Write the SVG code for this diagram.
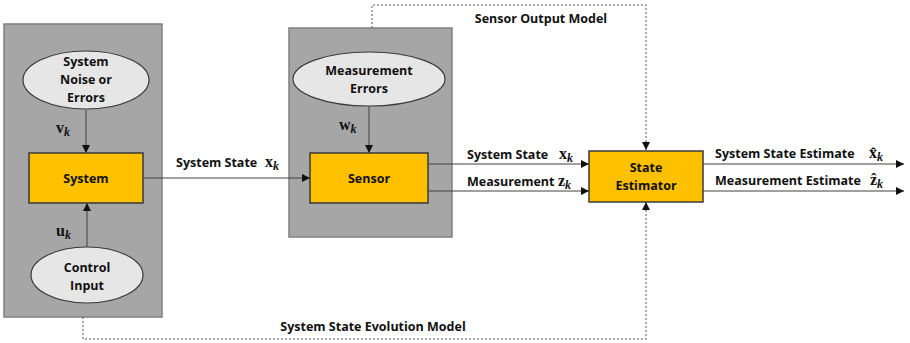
<svg xmlns="http://www.w3.org/2000/svg" width="910" height="343" viewBox="0 0 910 343">
  <style>
    .panel { fill: #a6a6a6; stroke: #808080; stroke-width: 1.5; }
    .cloud { fill: #e7e6e6; stroke: #3a3a3a; stroke-width: 1.2; }
    .block { fill: #ffc000; stroke: #3a3a3a; stroke-width: 1.5; }
    .lbl { font-family: "Open Sans", "Liberation Sans", sans-serif; font-weight: bold; font-size: 12.5px; fill: #111; }
    .mid { text-anchor: middle; }
    .math { font-family: "Liberation Serif", "DejaVu Serif", serif; font-weight: bold; font-size: 16px; fill: #111; }
    .sub { font-style: italic; font-size: 12px; }
    .wire { stroke: #404040; stroke-width: 1; fill: none; }
    .dash { stroke: #505050; stroke-width: 1; fill: none; stroke-dasharray: 2 2; }
  </style>
  <defs>
    <marker id="arr" viewBox="0 0 10 10" refX="10" refY="5" markerWidth="8" markerHeight="8" orient="auto" markerUnits="userSpaceOnUse">
      <path d="M0,0 L10,5 L0,10 z" fill="#111"/>
    </marker>
  </defs>

  <rect width="910" height="343" fill="#ffffff"/>

  <!-- background panels -->
  <g id="system-panel"><rect class="panel" x="4" y="24" width="158" height="293"/></g>
  <g id="sensor-panel"><rect class="panel" x="289" y="28" width="163" height="209"/></g>

  <!-- connectors -->
  <g id="connectors">
    <line class="wire" x1="86" y1="110" x2="86" y2="153" marker-end="url(#arr)"/>
    <line class="wire" x1="87" y1="247" x2="87" y2="203" marker-end="url(#arr)"/>
    <line class="wire" x1="143" y1="178" x2="310" y2="178" marker-end="url(#arr)"/>
    <line class="wire" x1="369" y1="106" x2="369" y2="153" marker-end="url(#arr)"/>
    <line class="wire" x1="428" y1="164" x2="589" y2="164" marker-end="url(#arr)"/>
    <line class="wire" x1="428" y1="191" x2="589" y2="191" marker-end="url(#arr)"/>
    <line class="wire" x1="703" y1="164" x2="904" y2="164" marker-end="url(#arr)"/>
    <line class="wire" x1="703" y1="191" x2="904" y2="191" marker-end="url(#arr)"/>
    <polyline class="dash" points="372,28 372,5 646,5 646,150" marker-end="url(#arr)"/>
    <polyline class="dash" points="83,317 83,339 646,339 646,202" marker-end="url(#arr)"/>
  </g>

  <!-- nodes -->
  <g id="noise">
    <ellipse class="cloud" cx="86" cy="80" rx="63" ry="29"/>
    <text class="lbl mid" x="86" y="66">System</text>
    <text class="lbl mid" x="86" y="84">Noise or</text>
    <text class="lbl mid" x="86" y="102">Errors</text>
  </g>
  <g id="system">
    <rect class="block" x="29" y="153" width="114" height="50"/>
    <text class="lbl mid" x="86" y="183">System</text>
  </g>
  <g id="control">
    <ellipse class="cloud" cx="87" cy="275" rx="56" ry="28"/>
    <text class="lbl mid" x="87" y="272">Control</text>
    <text class="lbl mid" x="87" y="290">Input</text>
  </g>
  <g id="meas-errors">
    <ellipse class="cloud" cx="369" cy="79" rx="76" ry="27"/>
    <text class="lbl mid" x="369" y="75">Measurement</text>
    <text class="lbl mid" x="369" y="93">Errors</text>
  </g>
  <g id="sensor">
    <rect class="block" x="310" y="153" width="118" height="50"/>
    <text class="lbl mid" x="369" y="183">Sensor</text>
  </g>
  <g id="estimator">
    <rect class="block" x="589" y="151" width="114" height="51"/>
    <text class="lbl mid" x="646" y="172">State</text>
    <text class="lbl mid" x="646" y="190">Estimator</text>
  </g>

  <!-- labels -->
  <g id="labels">
    <text class="math" x="56" y="133">v<tspan class="sub" dy="3">k</tspan></text>
    <text class="math" x="56" y="236">u<tspan class="sub" dy="3">k</tspan></text>
    <text class="math" x="339" y="130">w<tspan class="sub" dy="3">k</tspan></text>
    <text class="lbl" x="176" y="167">System State</text>
    <text class="math" x="265" y="167">x<tspan class="sub" dy="3">k</tspan></text>
    <text class="lbl" x="467" y="159">System State</text>
    <text class="math" x="559" y="159">x<tspan class="sub" dy="3">k</tspan></text>
    <text class="lbl" x="467" y="186">Measurement</text>
    <text class="math" x="558" y="186">z<tspan class="sub" dy="3">k</tspan></text>
    <text class="lbl" x="715" y="158">System State Estimate</text>
    <text class="math" x="869" y="158">x̂<tspan class="sub" dy="3">k</tspan></text>
    <text class="lbl" x="715" y="185">Measurement Estimate</text>
    <text class="math" x="870" y="185">ẑ<tspan class="sub" dy="3">k</tspan></text>
    <text class="lbl mid" x="541" y="23">Sensor Output Model</text>
    <text class="lbl mid" x="373" y="331">System State Evolution Model</text>
  </g>
</svg>
